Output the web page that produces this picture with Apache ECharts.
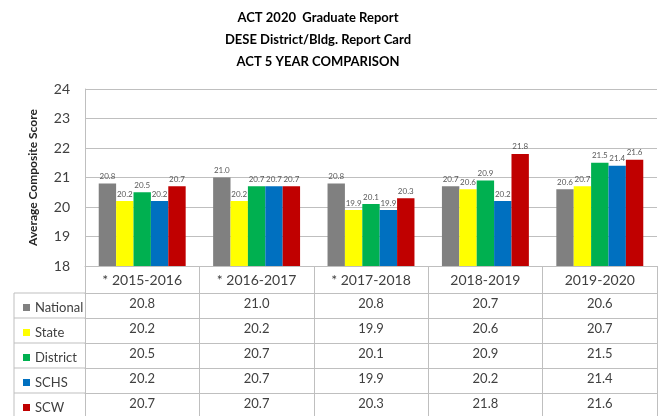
<!DOCTYPE html>
<html>
<head>
<meta charset="UTF-8">
<title>ACT 5 Year Comparison</title>
<script src="https://cdn.jsdelivr.net/npm/echarts@6/dist/echarts.min.js"></script>
<style>
  html, body { margin: 0; padding: 0; background: #fff; }
  #chart { width: 665px; height: 416px; }
</style>
</head>
<body>
<div id="chart"></div>
<script>
// categories (school years) and scores per group
var years = ['* 2015-2016', '* 2016-2017', '* 2017-2018', '2018-2019', '2019-2020'];
var groups = ['National', 'State', 'District', 'SCHS', 'SCW'];
var national = [20.8, 21.0, 20.8, 20.7, 20.6];
var state    = [20.2, 20.2, 19.9, 20.6, 20.7];
var district = [20.5, 20.7, 20.1, 20.9, 21.5];
var schs     = [20.2, 20.7, 19.9, 20.2, 21.4];
var scw      = [20.7, 20.7, 20.3, 21.8, 21.6];
var yTicks = [18, 19, 20, 21, 22, 23, 24];
var titleLines = ['ACT 2020  Graduate Report', 'DESE District/Bldg. Report Card', 'ACT 5 YEAR COMPARISON'];

var rows = [national, state, district, schs, scw];
var colors = ['#808080', '#FFFF00', '#00B050', '#0070C0', '#C00000'];
var font = 'Lato, "Open Sans", sans-serif';
var lineColor = '#bfbfbf';
var textColor = '#404040';

// layout of the chart + table
var gridLeft = 85, gridRight = 657, gridTop = 89, gridBottom = 266;
var catRowH = 27, rowH = 25, tableLeft = 14;

var chart = echarts.init(document.getElementById('chart'));

// x axes: one for the category row, one per table row
var xAxes = [{
    type: 'category',
    data: years,
    position: 'bottom',
    axisLine: { lineStyle: { color: lineColor } },
    axisTick: { show: true, length: 150, lineStyle: { color: lineColor } },
    axisLabel: { fontSize: 14, color: textColor, fontFamily: font, margin: 7 }
}];
rows.forEach(function (vals, i) {
    xAxes.push({
        type: 'category',
        data: years,
        position: 'bottom',
        offset: catRowH + rowH * i,
        axisLine: { lineStyle: { color: lineColor } },
        axisTick: { show: false },
        axisLabel: {
            fontSize: 13, color: textColor, fontFamily: font, margin: 4,
            formatter: function (v, idx) { return vals[idx].toFixed(1); }
        }
    });
});

// left column borders of the table (legend column)
var graphics = [];
graphics.push({ type: 'line', shape: { x1: tableLeft, y1: gridBottom + catRowH, x2: tableLeft, y2: 416 },
    style: { stroke: lineColor, lineWidth: 1 } });
for (var r = 0; r < rows.length; r++) {
    var yy = gridBottom + catRowH + rowH * r;
    graphics.push({ type: 'line', shape: { x1: tableLeft, y1: yy, x2: gridLeft, y2: yy },
        style: { stroke: lineColor, lineWidth: 1 } });
}
var titleY = [18, 40, 62];
titleLines.forEach(function (t, i) {
    graphics.push({ type: 'text', x: 318, y: titleY[i],
        style: { text: t, fontSize: 13, fontWeight: 'bold', fontFamily: font, fill: '#000',
                 align: 'center', verticalAlign: 'middle' } });
});

// one legend per table row so each key sits in its own cell
var legends = groups.map(function (g, i) {
    return {
        left: 18,
        top: gridBottom + catRowH + rowH * i + 3,
        itemWidth: 7,
        itemHeight: 7,
        icon: 'rect',
        data: [g],
        textStyle: { fontSize: 13, color: textColor, fontFamily: font }
    };
});

var option = {
    animation: false,
    color: colors,
    grid: { left: gridLeft, right: 665 - gridRight, top: gridTop, bottom: 416 - gridBottom, containLabel: false },
    graphic: graphics,
    legend: legends,
    xAxis: xAxes,
    yAxis: {
        type: 'value',
        min: yTicks[0],
        max: yTicks[yTicks.length - 1],
        interval: 1,
        name: 'Average Composite Score',
        nameLocation: 'middle',
        nameRotate: 90,
        nameGap: 46,
        nameTextStyle: { fontSize: 12, fontWeight: 'bold', color: '#262626', fontFamily: font },
        axisLine: { show: true, lineStyle: { color: lineColor } },
        axisTick: { show: false },
        axisLabel: { fontSize: 14, color: textColor, fontFamily: font, margin: 15 },
        splitLine: { lineStyle: { color: lineColor } }
    },
    series: groups.map(function (g, i) {
        return {
            name: g,
            type: 'bar',
            xAxisIndex: 0,
            data: rows[i],
            barGap: '0%',
            barCategoryGap: '24%',
            label: {
                show: true, position: 'top', distance: 3,
                fontSize: 8, color: '#595959', fontFamily: font,
                formatter: function (p) { return p.value.toFixed(1); }
            }
        };
    })
};

chart.setOption(option);
</script>
</body>
</html>
